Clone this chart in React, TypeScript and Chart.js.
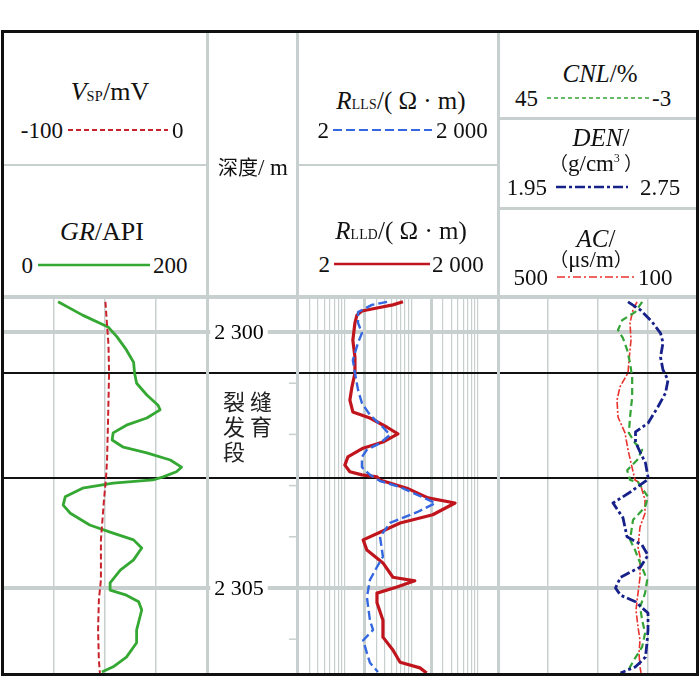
import React, { useEffect, useRef } from "react";
import { Chart, registerables } from "chart.js";

Chart.register(...registerables);

// ---------- axes / ticks ----------
const DEPTH_MIN = 2299.355;
const DEPTH_MAX = 2306.68;
const depthMajor = [2300, 2305];
const depthMajorLabels = ["2 300", "2 305"];
const depthMinor = [2301, 2302, 2303, 2304, 2306];
const fractureBounds = [2300.8, 2302.85];
const zoneRows = ["裂缝", "发育", "段"];

const grGrid = [0, 50, 100, 150, 200];
const resGrid = [2, 3, 4, 5, 6, 7, 8, 9, 10, 20, 30, 40, 50, 60, 70, 80, 90, 100, 200, 300, 400, 500, 600, 700, 800, 900, 1000, 2000];
const resMajor = [20, 200];
const denGrid = [1.95, 2.15, 2.35, 2.55, 2.75];

// ---------- curves ----------
const grDepth = [2299.41, 2299.67, 2299.9, 2300.1, 2300.35, 2300.59, 2300.8, 2301.0, 2301.23, 2301.43, 2301.52, 2301.68, 2301.82, 2301.97, 2302.11, 2302.25, 2302.36, 2302.5, 2302.64, 2302.73, 2302.83, 2302.89, 2302.95, 2303.05, 2303.22, 2303.38, 2303.54, 2303.77, 2303.91, 2304.06, 2304.22, 2304.45, 2304.65, 2304.9, 2305.04, 2305.14, 2305.27, 2305.43, 2305.82, 2306.07, 2306.35, 2306.54, 2306.64];
const grValue = [54, 78, 103, 112, 121, 128, 129, 131, 141, 152, 154, 141, 121, 108, 107, 118, 141, 164, 175, 170, 157, 147, 108, 78, 61, 59, 66, 85, 105, 128, 136, 128, 115, 105, 105, 121, 133, 136, 131, 131, 121, 108, 97];

const spDepth = [2299.41, 2299.86, 2300.25, 2300.8, 2301.72, 2302.5, 2302.85, 2303.28, 2304.06, 2304.84, 2305.23, 2305.82, 2306.41, 2306.66];
const spValue = [-49.8, -49, -48.3, -48, -48.5, -49, -49.5, -50.5, -52, -52, -53, -53.4, -53, -52.5];

const lldDepth = [2299.41, 2299.47, 2299.53, 2299.59, 2299.67, 2299.82, 2300.16, 2300.49, 2300.8, 2301.07, 2301.33, 2301.56, 2301.68, 2301.86, 2301.99, 2302.15, 2302.27, 2302.44, 2302.6, 2302.73, 2302.79, 2302.83, 2302.89, 2303.05, 2303.24, 2303.34, 2303.57, 2303.73, 2303.91, 2304.06, 2304.26, 2304.51, 2304.79, 2304.86, 2304.98, 2305.1, 2305.29, 2305.63, 2305.96, 2306.21, 2306.45, 2306.56, 2306.66];
const lldValue = [75, 53, 30.6, 18.2, 15.3, 14.3, 13.3, 14.3, 14.3, 12.9, 12, 13.3, 24, 43.4, 63, 37.6, 18.9, 11.2, 10.1, 12, 18.2, 30.6, 33.8, 86, 178, 453, 210, 68, 34, 19, 21.6, 37.6, 53, 113, 61, 30.6, 30.6, 37.6, 37.6, 53, 68, 135, 170];

const llsDepth = [2299.41, 2299.47, 2299.61, 2299.82, 2300.02, 2300.21, 2300.55, 2300.8, 2301.13, 2301.39, 2301.62, 2301.86, 2302.01, 2302.17, 2302.3, 2302.44, 2302.64, 2302.79, 2302.91, 2303.03, 2303.34, 2303.52, 2303.73, 2304.0, 2304.39, 2304.59, 2304.84, 2305.18, 2305.63, 2305.82, 2306.02, 2306.27, 2306.46, 2306.64];
const llsValue = [43.4, 25.7, 15.9, 15.9, 18.2, 15.9, 13.3, 14.3, 15.9, 18.2, 24, 37.6, 48, 34, 21.6, 18.2, 18.2, 24, 34, 68, 230, 122, 48, 34, 37.6, 30.6, 24, 21.6, 24, 26.7, 19, 21.6, 24, 31.6];

const denDepth = [2299.41, 2299.57, 2299.8, 2300.02, 2300.21, 2300.49, 2300.74, 2300.94, 2301.19, 2301.46, 2301.78, 2301.95, 2302.15, 2302.36, 2302.56, 2302.83, 2302.89, 2303.13, 2303.34, 2303.63, 2304.0, 2304.16, 2304.36, 2304.59, 2304.79, 2305.0, 2305.14, 2305.27, 2305.49, 2305.82, 2306.07, 2306.35, 2306.54, 2306.66];
const denValue = [2.47, 2.52, 2.566, 2.6, 2.61, 2.6, 2.61, 2.63, 2.62, 2.59, 2.55, 2.5, 2.5, 2.52, 2.54, 2.55, 2.546, 2.478, 2.41, 2.45, 2.466, 2.526, 2.55, 2.52, 2.44, 2.42, 2.44, 2.5, 2.55, 2.55, 2.546, 2.54, 2.5, 2.44];

const cnlDepth = [2299.41, 2299.61, 2299.77, 2299.96, 2300.12, 2300.35, 2300.61, 2300.88, 2301.27, 2301.66, 2301.97, 2302.17, 2302.3, 2302.5, 2302.7, 2302.89, 2302.93, 2303.22, 2303.42, 2303.67, 2304.06, 2304.26, 2304.51, 2304.84, 2305.1, 2305.37, 2305.63, 2305.88, 2306.15, 2306.37, 2306.54, 2306.64];
const cnlValue = [10.4, 12.1, 15.2, 16.2, 15.0, 14.0, 13.3, 12.8, 12.8, 13.3, 13.6, 12.1, 10.4, 11.6, 14, 13.3, 11.4, 9.0, 9.7, 12.6, 13.3, 12.1, 10.9, 9.2, 9.7, 10.9, 10.4, 9.7, 10.4, 12.1, 13.3, 13.8];

const acDepth = [2299.41, 2299.57, 2299.82, 2300.16, 2300.55, 2300.8, 2301.07, 2301.33, 2301.66, 2301.97, 2302.3, 2302.64, 2302.89, 2302.95, 2303.28, 2303.54, 2303.81, 2304.2, 2304.39, 2304.79, 2305.1, 2305.43, 2305.76, 2306.02, 2306.27, 2306.54, 2306.66];
const acValue = [222, 230, 236, 234, 238, 240, 256, 262, 260, 246, 240, 232, 226, 216, 206, 206, 216, 220, 216, 216, 220, 224, 220, 216, 218, 216, 214];

// ---------- styles ----------
const GRAY = "#c7cfcf";
const SERIF = '"Liberation Serif", "Times New Roman", serif';
const CJK = '"Noto Sans CJK SC", "Noto Sans", sans-serif';
const C_SP = "#c8232c";
const C_GR = "#34a833";
const C_LLS = "#3568e0";
const C_LLD = "#c0151d";
const C_CNL = "#35a335";
const C_DEN = "#17218a";
const C_AC = "#e8322e";

function pts(depths: number[], values: number[]) {
  return depths.map((d, i) => ({ x: values[i], y: d }));
}

function yScale(): any {
  return {
    type: "linear",
    axis: "y",
    min: DEPTH_MIN,
    max: DEPTH_MAX,
    reverse: true,
    ticks: { display: false },
    border: { display: false },
    grid: {
      drawTicks: false,
      color: (c: any) => (fractureBounds.includes(c.tick?.value) ? "#111" : GRAY),
      lineWidth: (c: any) => (fractureBounds.includes(c.tick?.value) ? 2 : 4),
    },
    afterBuildTicks: (s: any) => {
      s.ticks = [...depthMajor, ...fractureBounds].map((v) => ({ value: v }));
    },
  };
}

function gridX(type: string, min: number, max: number, ticks: number[], width: (v: number) => number, reverse = false): any {
  return {
    type,
    axis: "x",
    min,
    max,
    reverse,
    ticks: { display: false },
    border: { display: false },
    grid: { drawTicks: false, color: GRAY, lineWidth: (c: any) => width(c.tick?.value) },
    afterBuildTicks: (s: any) => {
      s.ticks = ticks.map((v) => ({ value: v }));
    },
  };
}

function hiddenX(min: number, max: number, reverse = false): any {
  return { type: "linear", axis: "x", min, max, reverse, display: false };
}

function line(data: any[], xAxisID: string, color: string, width: number, dash: number[] = []): any {
  return {
    data,
    xAxisID,
    yAxisID: "y",
    showLine: true,
    pointRadius: 0,
    borderColor: color,
    borderWidth: width,
    borderDash: dash,
    borderJoinStyle: "round",
    fill: false,
  };
}

function baseOptions(scales: any): any {
  return {
    responsive: false,
    maintainAspectRatio: false,
    animation: false,
    events: [],
    layout: { padding: 0 },
    plugins: { legend: { display: false }, tooltip: { enabled: false } },
    scales,
  };
}

const depthTextPlugin = {
  id: "depthText",
  afterDraw(chart: any) {
    const { ctx, chartArea } = chart;
    const y = chart.scales.y;
    ctx.save();
    ctx.strokeStyle = GRAY;
    ctx.lineWidth = 1.5;
    depthMinor.forEach((d) => {
      const py = y.getPixelForValue(d);
      ctx.beginPath();
      ctx.moveTo(chartArea.right - 9, py);
      ctx.lineTo(chartArea.right, py);
      ctx.stroke();
    });
    ctx.font = `22px ${SERIF}`;
    ctx.textAlign = "center";
    ctx.textBaseline = "middle";
    depthMajor.forEach((d, i) => {
      const py = y.getPixelForValue(d);
      const cx = chartArea.left + 32;
      const w = ctx.measureText(depthMajorLabels[i]).width;
      ctx.fillStyle = "#fff";
      ctx.fillRect(cx - w / 2 - 4, py - 11, w + 8, 22);
      ctx.fillStyle = "#000";
      ctx.fillText(depthMajorLabels[i], cx, py + 1);
    });
    const mid = y.getPixelForValue((fractureBounds[0] + fractureBounds[1]) / 2) + 1;
    ctx.font = `22px ${CJK}`;
    ctx.fillStyle = "#222";
    zoneRows.forEach((row, r) => {
      const py = mid + (r - 1) * 25;
      Array.from(row).forEach((ch, k) => {
        ctx.fillText(ch, chartArea.left + 27 + k * 27, py);
      });
    });
    ctx.restore();
  },
};

function track1Config(): any {
  return {
    type: "scatter",
    data: {
      datasets: [
        line(pts(spDepth, spValue), "xSP", C_SP, 2, [6, 3]),
        line(pts(grDepth, grValue), "xGR", C_GR, 2.8),
      ],
    },
    options: baseOptions({
      xGR: gridX("linear", 0, 200, grGrid, () => 1.5),
      xSP: hiddenX(-100, 0),
      y: yScale(),
    }),
  };
}

function depthConfig(): any {
  return {
    type: "scatter",
    data: { datasets: [] },
    options: baseOptions({ x: hiddenX(0, 1), y: yScale() }),
    plugins: [depthTextPlugin],
  };
}

function resConfig(): any {
  return {
    type: "scatter",
    data: {
      datasets: [
        line(pts(llsDepth, llsValue), "xRes", C_LLS, 2.4, [9, 4]),
        line(pts(lldDepth, lldValue), "xRes", C_LLD, 3.2),
      ],
    },
    options: baseOptions({
      xRes: gridX("logarithmic", 2, 2000, resGrid, (v) => (resMajor.includes(v) ? 3 : 1.2)),
      y: yScale(),
    }),
  };
}

function track3Config(): any {
  return {
    type: "scatter",
    data: {
      datasets: [
        line(pts(denDepth, denValue), "xDEN", C_DEN, 2.8, [10, 3, 3, 3]),
        line(pts(cnlDepth, cnlValue), "xCNL", C_CNL, 2.2, [7, 4]),
        line(pts(acDepth, acValue), "xAC", C_AC, 1.6, [7, 2, 2, 2]),
      ],
    },
    options: baseOptions({
      xDEN: gridX("linear", 1.95, 2.75, denGrid, () => 1.5),
      xCNL: hiddenX(-3, 45, true),
      xAC: hiddenX(100, 500, true),
      y: yScale(),
    }),
  };
}

function ChartBox({ left, top, width, height, build }: { left: number; top: number; width: number; height: number; build: () => any }) {
  const ref = useRef<HTMLCanvasElement | null>(null);
  useEffect(() => {
    const chart = new Chart(ref.current as HTMLCanvasElement, build());
    return () => chart.destroy();
  }, []);
  return <canvas ref={ref} width={width} height={height} style={{ position: "absolute", left, top, width, height }} />;
}

function T({ x, y, align = "center", size = 24, font = SERIF, children }: { x: number; y: number; align?: string; size?: number; font?: string; children: any }) {
  const tx = align === "center" ? "-50%" : align === "right" ? "-100%" : "0";
  return (
    <div
      style={{
        position: "absolute",
        left: x,
        top: y,
        transform: `translate(${tx}, -50%)`,
        fontFamily: font,
        fontSize: size,
        lineHeight: 1,
        whiteSpace: "nowrap",
        color: "#111",
      }}
    >
      {children}
    </div>
  );
}

function L({ x1, x2, y, color, width, dash }: { x1: number; x2: number; y: number; color: string; width: number; dash?: string }) {
  return (
    <svg style={{ position: "absolute", left: x1, top: y - 3, overflow: "visible" }} width={x2 - x1} height={6}>
      <line x1={0} y1={3} x2={x2 - x1} y2={3} stroke={color} strokeWidth={width} strokeDasharray={dash} />
    </svg>
  );
}

function Box({ left, top, width, height, bg }: { left: number; top: number; width: number; height: number; bg: string }) {
  return <div style={{ position: "absolute", left, top, width, height, background: bg }} />;
}

const sub = { fontSize: "0.55em", verticalAlign: "-0.05em", letterSpacing: "0.02em" };
const paren = { fontFamily: CJK, fontSize: 19 };

export default function App() {
  const TOP = 299;
  const H = 375;
  return (
    <div style={{ position: "absolute", left: 0, top: 0, width: 700, height: 700, background: "#fff", overflow: "hidden" }}>
      <ChartBox left={3} top={TOP} width={204} height={H} build={track1Config} />
      <ChartBox left={207} top={TOP} width={91} height={H} build={depthConfig} />
      <ChartBox left={298} top={TOP} width={200} height={H} build={resConfig} />
      <ChartBox left={498} top={TOP} width={200} height={H} build={track3Config} />

      {/* dividers */}
      <Box left={206} top={31} width={3} height={644} bg={GRAY} />
      <Box left={296} top={31} width={3} height={644} bg={GRAY} />
      <Box left={497} top={31} width={3} height={644} bg={GRAY} />
      <Box left={3} top={295} width={694} height={4} bg={GRAY} />
      <Box left={3} top={164} width={204} height={2} bg={GRAY} />
      <Box left={298} top={164} width={200} height={2} bg={GRAY} />
      <Box left={498} top={117} width={199} height={3} bg={GRAY} />
      <Box left={498} top={207} width={199} height={3} bg={GRAY} />

      {/* header: track 1 */}
      <T x={110} y={92} size={26}>
        <i>V</i>
        <span style={sub}>SP</span>/mV
      </T>
      <T x={63} y={130} align="right" size={23}>-100</T>
      <L x1={68} x2={168} y={130} color={C_SP} width={2} dash="5 3" />
      <T x={172} y={130} align="left" size={23}>0</T>

      <T x={102} y={232} size={26}>
        <i>GR</i>/API
      </T>
      <T x={33} y={265} align="right" size={23}>0</T>
      <L x1={38} x2={150} y={265} color={C_GR} width={2.5} />
      <T x={153} y={265} align="left" size={23}>200</T>

      {/* header: depth */}
      <T x={253} y={167} size={20} font={CJK}>
        深度<span style={{ fontFamily: SERIF, fontSize: 23 }}>/ m</span>
      </T>

      {/* header: resistivity */}
      <T x={401} y={100} size={25}>
        <i>R</i>
        <span style={sub}>LLS</span>/( Ω · m)
      </T>
      <T x={329} y={130} align="right" size={23}>2</T>
      <L x1={333} x2={432} y={130} color={C_LLS} width={2} dash="9 4" />
      <T x={436} y={130} align="left" size={23}>2 000</T>

      <T x={401} y={230} size={25}>
        <i>R</i>
        <span style={sub}>LLD</span>/( Ω · m)
      </T>
      <T x={330} y={264} align="right" size={23}>2</T>
      <L x1={334} x2={430} y={264} color={C_LLD} width={2.5} />
      <T x={432} y={264} align="left" size={23}>2 000</T>

      {/* header: track 3 */}
      <T x={600} y={73} size={25}>
        <i>CNL</i>/%
      </T>
      <T x={538} y={98} align="right" size={23}>45</T>
      <L x1={547} x2={650} y={98} color={C_CNL} width={1.5} dash="4 3" />
      <T x={652} y={98} align="left" size={23}>-3</T>

      <T x={601} y={137} size={25}>
        <i>DEN</i>/
      </T>
      <T x={596} y={163} size={23}>
        <span style={paren}>（</span>g/cm<sup style={{ fontSize: "0.5em" }}>3</sup>
        <span style={paren}> ）</span>
      </T>
      <T x={547} y={187} align="right" size={23}>1.95</T>
      <L x1={556} x2={628} y={187} color={C_DEN} width={2.5} dash="10 3 3 3" />
      <T x={640} y={187} align="left" size={23}>2.75</T>

      <T x={596} y={238} size={25}>
        <i>AC</i>/
      </T>
      <T x={591} y={259} size={23}>
        <span style={paren}>（</span>μs/m<span style={paren}>）</span>
      </T>
      <T x={548} y={277} align="right" size={23}>500</T>
      <L x1={557} x2={636} y={277} color={C_AC} width={1.5} dash="8 3 2 3" />
      <T x={638} y={277} align="left" size={23}>100</T>

      {/* outer frame */}
      <div
        style={{
          position: "absolute",
          left: 1,
          top: 30,
          width: 698,
          height: 646,
          boxSizing: "border-box",
          border: "3px solid #111",
        }}
      />
    </div>
  );
}
